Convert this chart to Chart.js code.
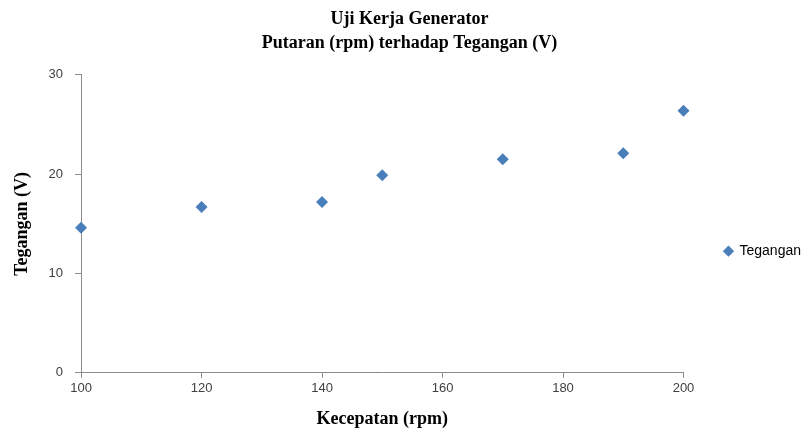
<!DOCTYPE html>
<html lang="id">
<head>
    <meta charset="UTF-8">
    <title>Uji Kerja Generator</title>
    <script src="https://cdn.jsdelivr.net/npm/chart.js@4"></script>
    <style>
        body { margin: 0; background: #fff; }
        #wrap { width: 804px; height: 432px; }
    </style>
</head>
<body>
<div id="wrap"><canvas id="grafik" width="804" height="432"></canvas></div>
<script>
// data
const kecepatan = [100, 120, 140, 150, 170, 190, 200];
const tegangan = [14.6, 16.7, 17.2, 19.9, 21.5, 22.1, 26.4];
const xTicks = [100, 120, 140, 160, 180, 200];
const yTicks = [0, 10, 20, 30];

const titik = kecepatan.map((k, i) => ({ x: k, y: tegangan[i] }));
const serif = 'Liberation Serif';
const sans = 'Liberation Sans';

new Chart(document.getElementById('grafik'), {
    type: 'scatter',
    data: {
        datasets: [{
            label: 'Tegangan',
            data: titik,
            pointStyle: 'rectRot',
            pointRadius: 6,
            pointHoverRadius: 6,
            backgroundColor: '#4a7ebb',
            borderColor: '#4a7ebb',
            borderWidth: 0,
            clip: false
        }]
    },
    options: {
        responsive: false,
        animation: false,
        layout: { padding: { left: 8, right: -7, top: 4, bottom: -2 } },
        plugins: {
            title: {
                display: true,
                text: ['Uji Kerja Generator', 'Putaran (rpm) terhadap Tegangan (V)'],
                font: { family: serif, size: 18, weight: 'bold', lineHeight: 1.33 },
                color: '#000',
                padding: { top: 3, bottom: 20 }
            },
            legend: {
                position: 'right',
                // judul kosong hanya untuk menurunkan letak legenda
                title: { display: true, text: ' ', font: { size: 2 }, padding: { top: 62, bottom: 0 } },
                labels: {
                    usePointStyle: true,
                    pointStyle: 'rectRot',
                    boxWidth: 8,
                    boxHeight: 8,
                    font: { family: sans, size: 14 },
                    color: '#000',
                    padding: 41
                }
            },
            tooltip: { enabled: false }
        },
        scales: {
            x: {
                type: 'linear',
                min: 100,
                max: 200,
                afterBuildTicks: s => { s.ticks = xTicks.map(v => ({ value: v })); },
                ticks: { font: { family: sans, size: 13 }, color: '#404040', padding: 2.5 },
                grid: { drawOnChartArea: false, tickLength: 5, color: '#8c8c8c' },
                border: { color: '#8c8c8c' },
                title: {
                    display: true,
                    text: 'Kecepatan (rpm)',
                    font: { family: serif, size: 18, weight: 'bold' },
                    color: '#000',
                    padding: { top: 10 }
                }
            },
            y: {
                min: 0,
                max: 30,
                afterBuildTicks: s => { s.ticks = yTicks.map(v => ({ value: v })); },
                ticks: { font: { family: sans, size: 13 }, color: '#404040', padding: 12 },
                grid: { drawOnChartArea: false, tickLength: 6, color: '#8c8c8c' },
                border: { color: '#8c8c8c' },
                title: {
                    display: true,
                    text: 'Tegangan (V)',
                    font: { family: serif, size: 18, weight: 'bold' },
                    color: '#000',
                    padding: { bottom: 3 }
                }
            }
        }
    }
});
</script>
</body>
</html>
